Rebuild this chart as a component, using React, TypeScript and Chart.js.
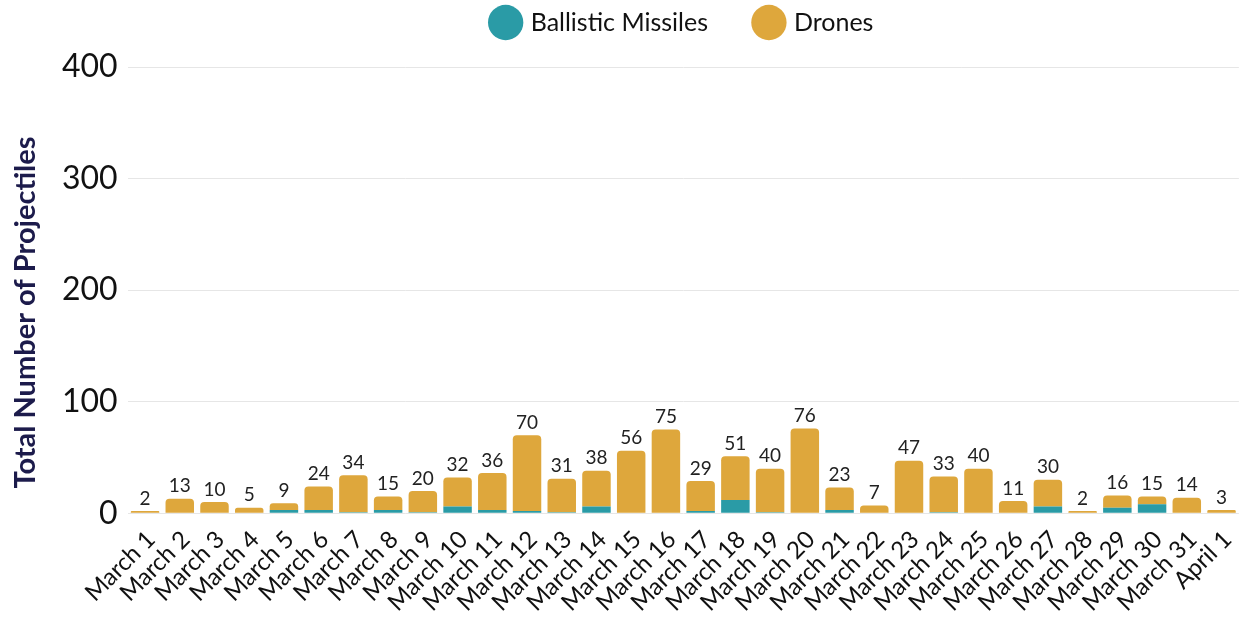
import React, { useEffect, useRef } from "react";
import { Chart, registerables } from "chart.js";

Chart.register(...registerables);

const categories = [
  "March 1", "March 2", "March 3", "March 4", "March 5", "March 6", "March 7", "March 8",
  "March 9", "March 10", "March 11", "March 12", "March 13", "March 14", "March 15", "March 16",
  "March 17", "March 18", "March 19", "March 20", "March 21", "March 22", "March 23", "March 24",
  "March 25", "March 26", "March 27", "March 28", "March 29", "March 30", "March 31", "April 1",
];

const totals = [2, 13, 10, 5, 9, 24, 34, 15, 20, 32, 36, 70, 31, 38, 56, 75, 29, 51, 40, 76, 23, 7, 47, 33, 40, 11, 30, 2, 16, 15, 14, 3];

const ballisticMissiles = [0, 0, 0, 0, 3, 3, 1, 3, 1, 6, 3, 2, 1, 6, 0, 0, 2, 12, 1, 0, 3, 0, 0, 1, 0, 0, 6, 0, 5, 8, 0, 0];

const drones = [2, 13, 10, 5, 6, 21, 33, 12, 19, 26, 33, 68, 30, 32, 56, 75, 27, 39, 39, 76, 20, 7, 47, 32, 40, 11, 24, 2, 11, 7, 14, 3];

const yTicks = [0, 100, 200, 300, 400];

const yTitle = "Total Number of Projectiles";

const FONT = "Lato, 'Open Sans', sans-serif";

const totalLabels = {
  id: "totalLabels",
  afterDatasetsDraw(chart: any) {
    const ctx = chart.ctx;
    const meta = chart.getDatasetMeta(chart.data.datasets.length - 1);
    ctx.save();
    ctx.font = `19px ${FONT}`;
    ctx.fillStyle = "#222222";
    ctx.textAlign = "center";
    ctx.textBaseline = "bottom";
    meta.data.forEach((el: any, i: number) => {
      ctx.fillText(String(totals[i]), el.x, el.y - 3);
    });
    ctx.restore();
  },
};

const yTitlePlugin = {
  id: "yTitlePlugin",
  afterDraw(chart: any) {
    const ctx = chart.ctx;
    ctx.save();
    ctx.translate(26, chart.height / 2);
    ctx.rotate(-Math.PI / 2);
    ctx.font = `bold 29px ${FONT}`;
    ctx.fillStyle = "#1c1b4b";
    ctx.textAlign = "center";
    ctx.textBaseline = "middle";
    ctx.fillText(yTitle, 0, 0);
    ctx.restore();
  },
};

const legendMargin = {
  id: "legendMargin",
  beforeInit(chart: any) {
    const legend = chart.legend;
    if (!legend) return;
    const origFit = legend.fit;
    legend.fit = function () {
      origFit.bind(legend)();
      this.height += 22;
    };
  },
};

export default function App() {
  const ref = useRef<HTMLCanvasElement>(null);
  useEffect(() => {
    if (!ref.current) return;
    const chart = new Chart(ref.current, {
      type: "bar",
      data: {
        labels: categories,
        datasets: [
          {
            label: "Ballistic Missiles",
            data: ballisticMissiles,
            backgroundColor: "#2a9ba6",
            barPercentage: 0.82,
            categoryPercentage: 1,
          },
          {
            label: "Drones",
            data: drones,
            backgroundColor: "#dea73c",
            borderRadius: { topLeft: 4, topRight: 4, bottomLeft: 0, bottomRight: 0 },
            borderSkipped: false,
            barPercentage: 0.82,
            categoryPercentage: 1,
          },
        ],
      },
      options: {
        animation: false,
        responsive: false,
        maintainAspectRatio: false,
        layout: { padding: { left: 52, right: 6, top: 0, bottom: 4 } },
        plugins: {
          legend: {
            position: "top",
            fullSize: false,
            labels: {
              usePointStyle: true,
              pointStyle: "circle",
              boxWidth: 26,
              boxHeight: 26,
              padding: 10,
              color: "#111111",
              font: { family: FONT, size: 25 },
              generateLabels(chart: any) {
                const items = Chart.defaults.plugins.legend.labels.generateLabels(chart);
                items.forEach((it: any, i: number) => {
                  if (i === 0) it.text = it.text + "      ";
                });
                return items;
              },
            },
          },
          tooltip: { enabled: false },
        },
        scales: {
          x: {
            stacked: true,
            grid: { display: false },
            border: { display: false },
            ticks: {
              maxRotation: 45,
              minRotation: 45,
              autoSkip: false,
              color: "#111111",
              font: { family: FONT, size: 24 },
              padding: 4,
              labelOffset: 6,
            },
          },
          y: {
            stacked: true,
            min: 0,
            max: 400,
            afterBuildTicks(axis: any) {
              axis.ticks = yTicks.map((v) => ({ value: v }));
            },
            grid: { color: "#e6e6e6", lineWidth: 1, drawTicks: false },
            border: { display: false },
            ticks: {
              color: "#111111",
              font: { family: FONT, size: 32 },
              padding: 10,
            },
          },
        },
      },
      plugins: [totalLabels, yTitlePlugin, legendMargin],
    });
    return () => chart.destroy();
  }, []);
  return (
    <div style={{ position: "fixed", left: 0, top: 0, width: 1246, height: 625, background: "#ffffff" }}>
      <canvas ref={ref} width={1246} height={625} style={{ width: 1246, height: 625 }} />
    </div>
  );
}
